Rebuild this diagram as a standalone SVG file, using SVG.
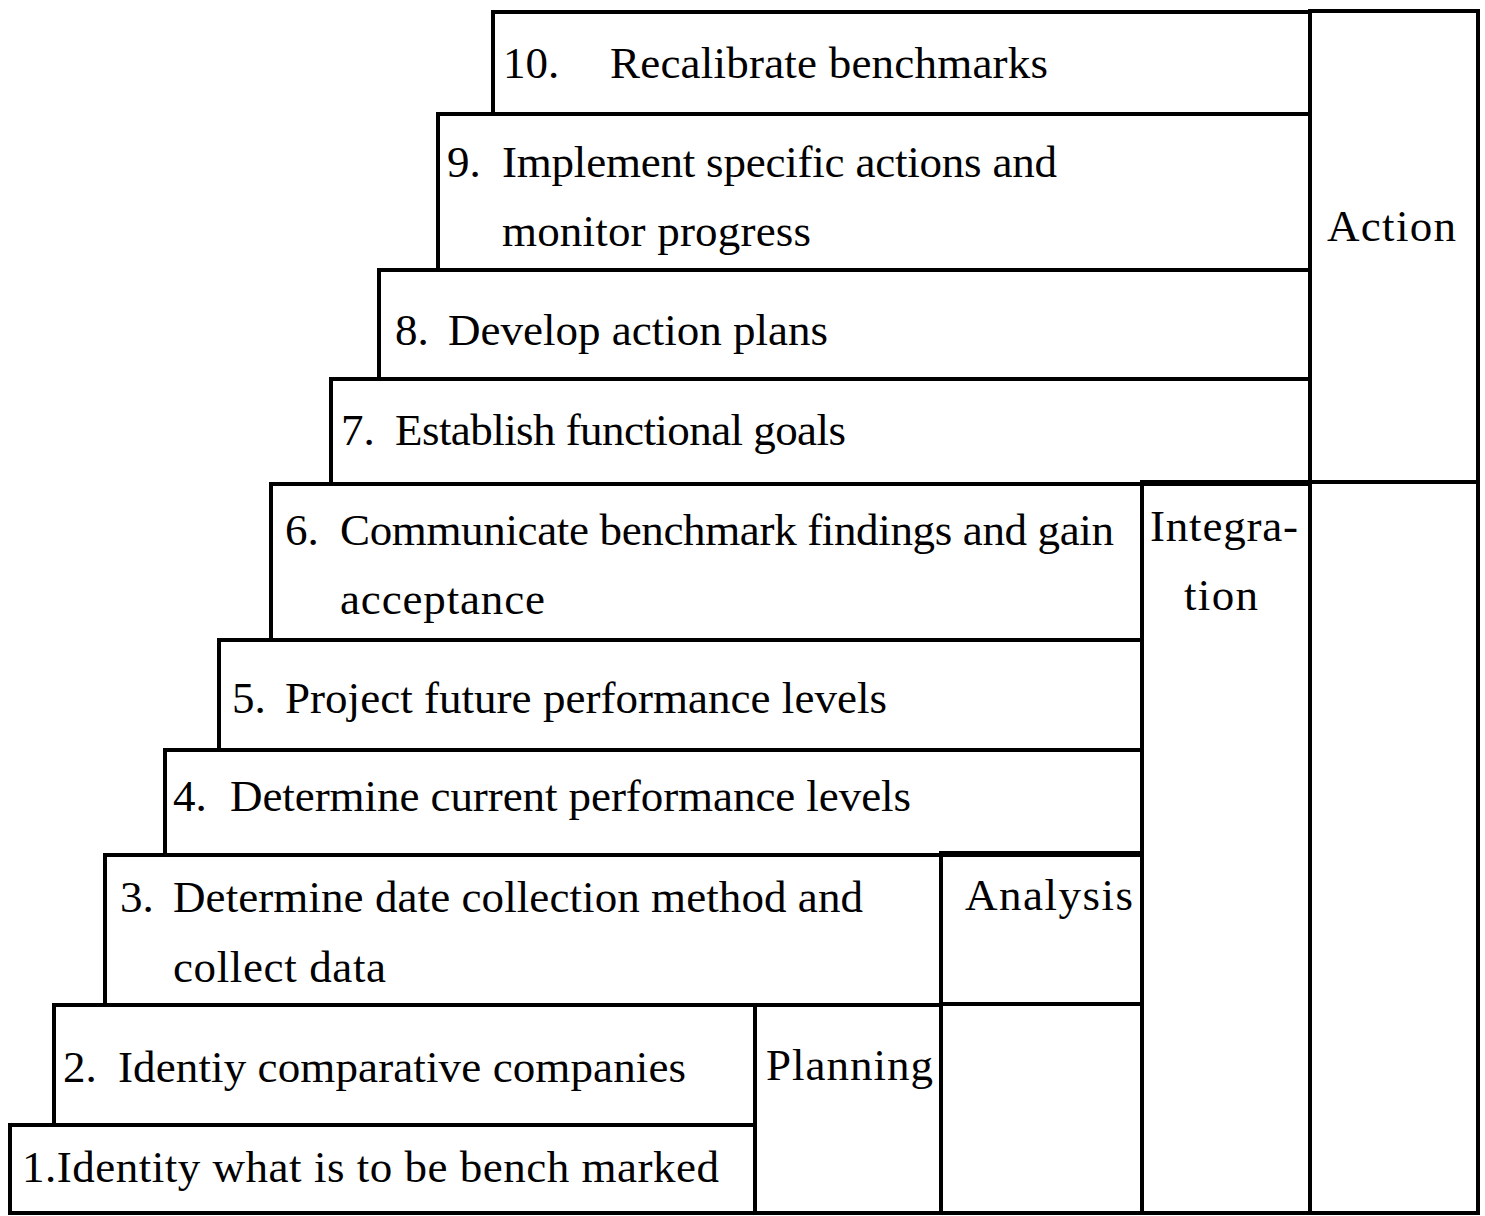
<svg xmlns="http://www.w3.org/2000/svg" width="1485" height="1216" viewBox="0 0 1485 1216">
  <style>
    .box { fill: none; stroke: #000; stroke-width: 4; }
    .t { font-family: "Liberation Serif", "Times New Roman", serif; font-size: 45px; fill: #000; }
  </style>
  <rect width="1485" height="1216" fill="#fff"/>

  <!-- phase columns -->
  <g id="phase-action">
    <rect class="box" x="1310" y="11" width="168" height="471"/>
    <rect class="box" x="1310" y="482" width="168" height="731"/>
    <text class="t" x="1327" y="241" textLength="129" lengthAdjust="spacing">Action</text>
  </g>
  <g id="phase-integration">
    <rect class="box" x="1142" y="482" width="168" height="731"/>
    <text class="t" x="1150" y="541" textLength="148" lengthAdjust="spacing">Integra-</text>
    <text class="t" x="1184" y="610" textLength="74" lengthAdjust="spacing">tion</text>
  </g>
  <g id="phase-analysis">
    <rect class="box" x="941" y="853" width="201" height="151"/>
    <rect class="box" x="941" y="1004" width="201" height="209"/>
    <text class="t" x="965" y="910" textLength="168" lengthAdjust="spacing">Analysis</text>
  </g>
  <g id="phase-planning">
    <rect class="box" x="755" y="1005" width="186" height="208"/>
    <text class="t" x="766" y="1080" textLength="167" lengthAdjust="spacing">Planning</text>
  </g>

  <!-- benchmarking steps, bottom to top -->
  <g id="step-1">
    <rect class="box" x="10" y="1125" width="745" height="88"/>
    <text class="t" x="22" y="1182" textLength="697" lengthAdjust="spacing">1.Identity what is to be bench marked</text>
  </g>
  <g id="step-2">
    <rect class="box" x="54" y="1005" width="701" height="120"/>
    <text class="t" x="63" y="1082">2.</text>
    <text class="t" x="118" y="1082" textLength="568" lengthAdjust="spacing">Identiy comparative companies</text>
  </g>
  <g id="step-3">
    <rect class="box" x="105" y="855" width="836" height="150"/>
    <text class="t" x="120" y="912">3.</text>
    <text class="t" x="173" y="912" textLength="690" lengthAdjust="spacing">Determine date collection method and</text>
    <text class="t" x="173" y="982" textLength="213" lengthAdjust="spacing">collect data</text>
  </g>
  <g id="step-4">
    <rect class="box" x="165" y="750" width="977" height="105"/>
    <text class="t" x="173" y="811">4.</text>
    <text class="t" x="230" y="811" textLength="681" lengthAdjust="spacing">Determine current performance levels</text>
  </g>
  <g id="step-5">
    <rect class="box" x="219" y="640" width="923" height="110"/>
    <text class="t" x="232" y="713">5.</text>
    <text class="t" x="285" y="713" textLength="602" lengthAdjust="spacing">Project future performance levels</text>
  </g>
  <g id="step-6">
    <rect class="box" x="271" y="484" width="871" height="156"/>
    <text class="t" x="285" y="545">6.</text>
    <text class="t" x="340" y="545" textLength="774" lengthAdjust="spacing">Communicate benchmark findings and gain</text>
    <text class="t" x="340" y="614" textLength="205" lengthAdjust="spacing">acceptance</text>
  </g>
  <g id="step-7">
    <rect class="box" x="331" y="379" width="979" height="105"/>
    <text class="t" x="341" y="445">7.</text>
    <text class="t" x="395" y="445" textLength="451" lengthAdjust="spacing">Establish functional goals</text>
  </g>
  <g id="step-8">
    <rect class="box" x="379" y="270" width="931" height="109"/>
    <text class="t" x="395" y="345">8.</text>
    <text class="t" x="448" y="345" textLength="380" lengthAdjust="spacing">Develop action plans</text>
  </g>
  <g id="step-9">
    <rect class="box" x="438" y="114" width="872" height="156"/>
    <text class="t" x="447" y="177">9.</text>
    <text class="t" x="502" y="177" textLength="555" lengthAdjust="spacing">Implement specific actions and</text>
    <text class="t" x="502" y="246" textLength="309" lengthAdjust="spacing">monitor progress</text>
  </g>
  <g id="step-10">
    <rect class="box" x="493" y="12" width="817" height="102"/>
    <text class="t" x="503" y="78">10.</text>
    <text class="t" x="610" y="78" textLength="438" lengthAdjust="spacing">Recalibrate benchmarks</text>
  </g>

  <!-- the staircase has no connectors; group kept for structure -->
  <g id="connectors"/>
</svg>
